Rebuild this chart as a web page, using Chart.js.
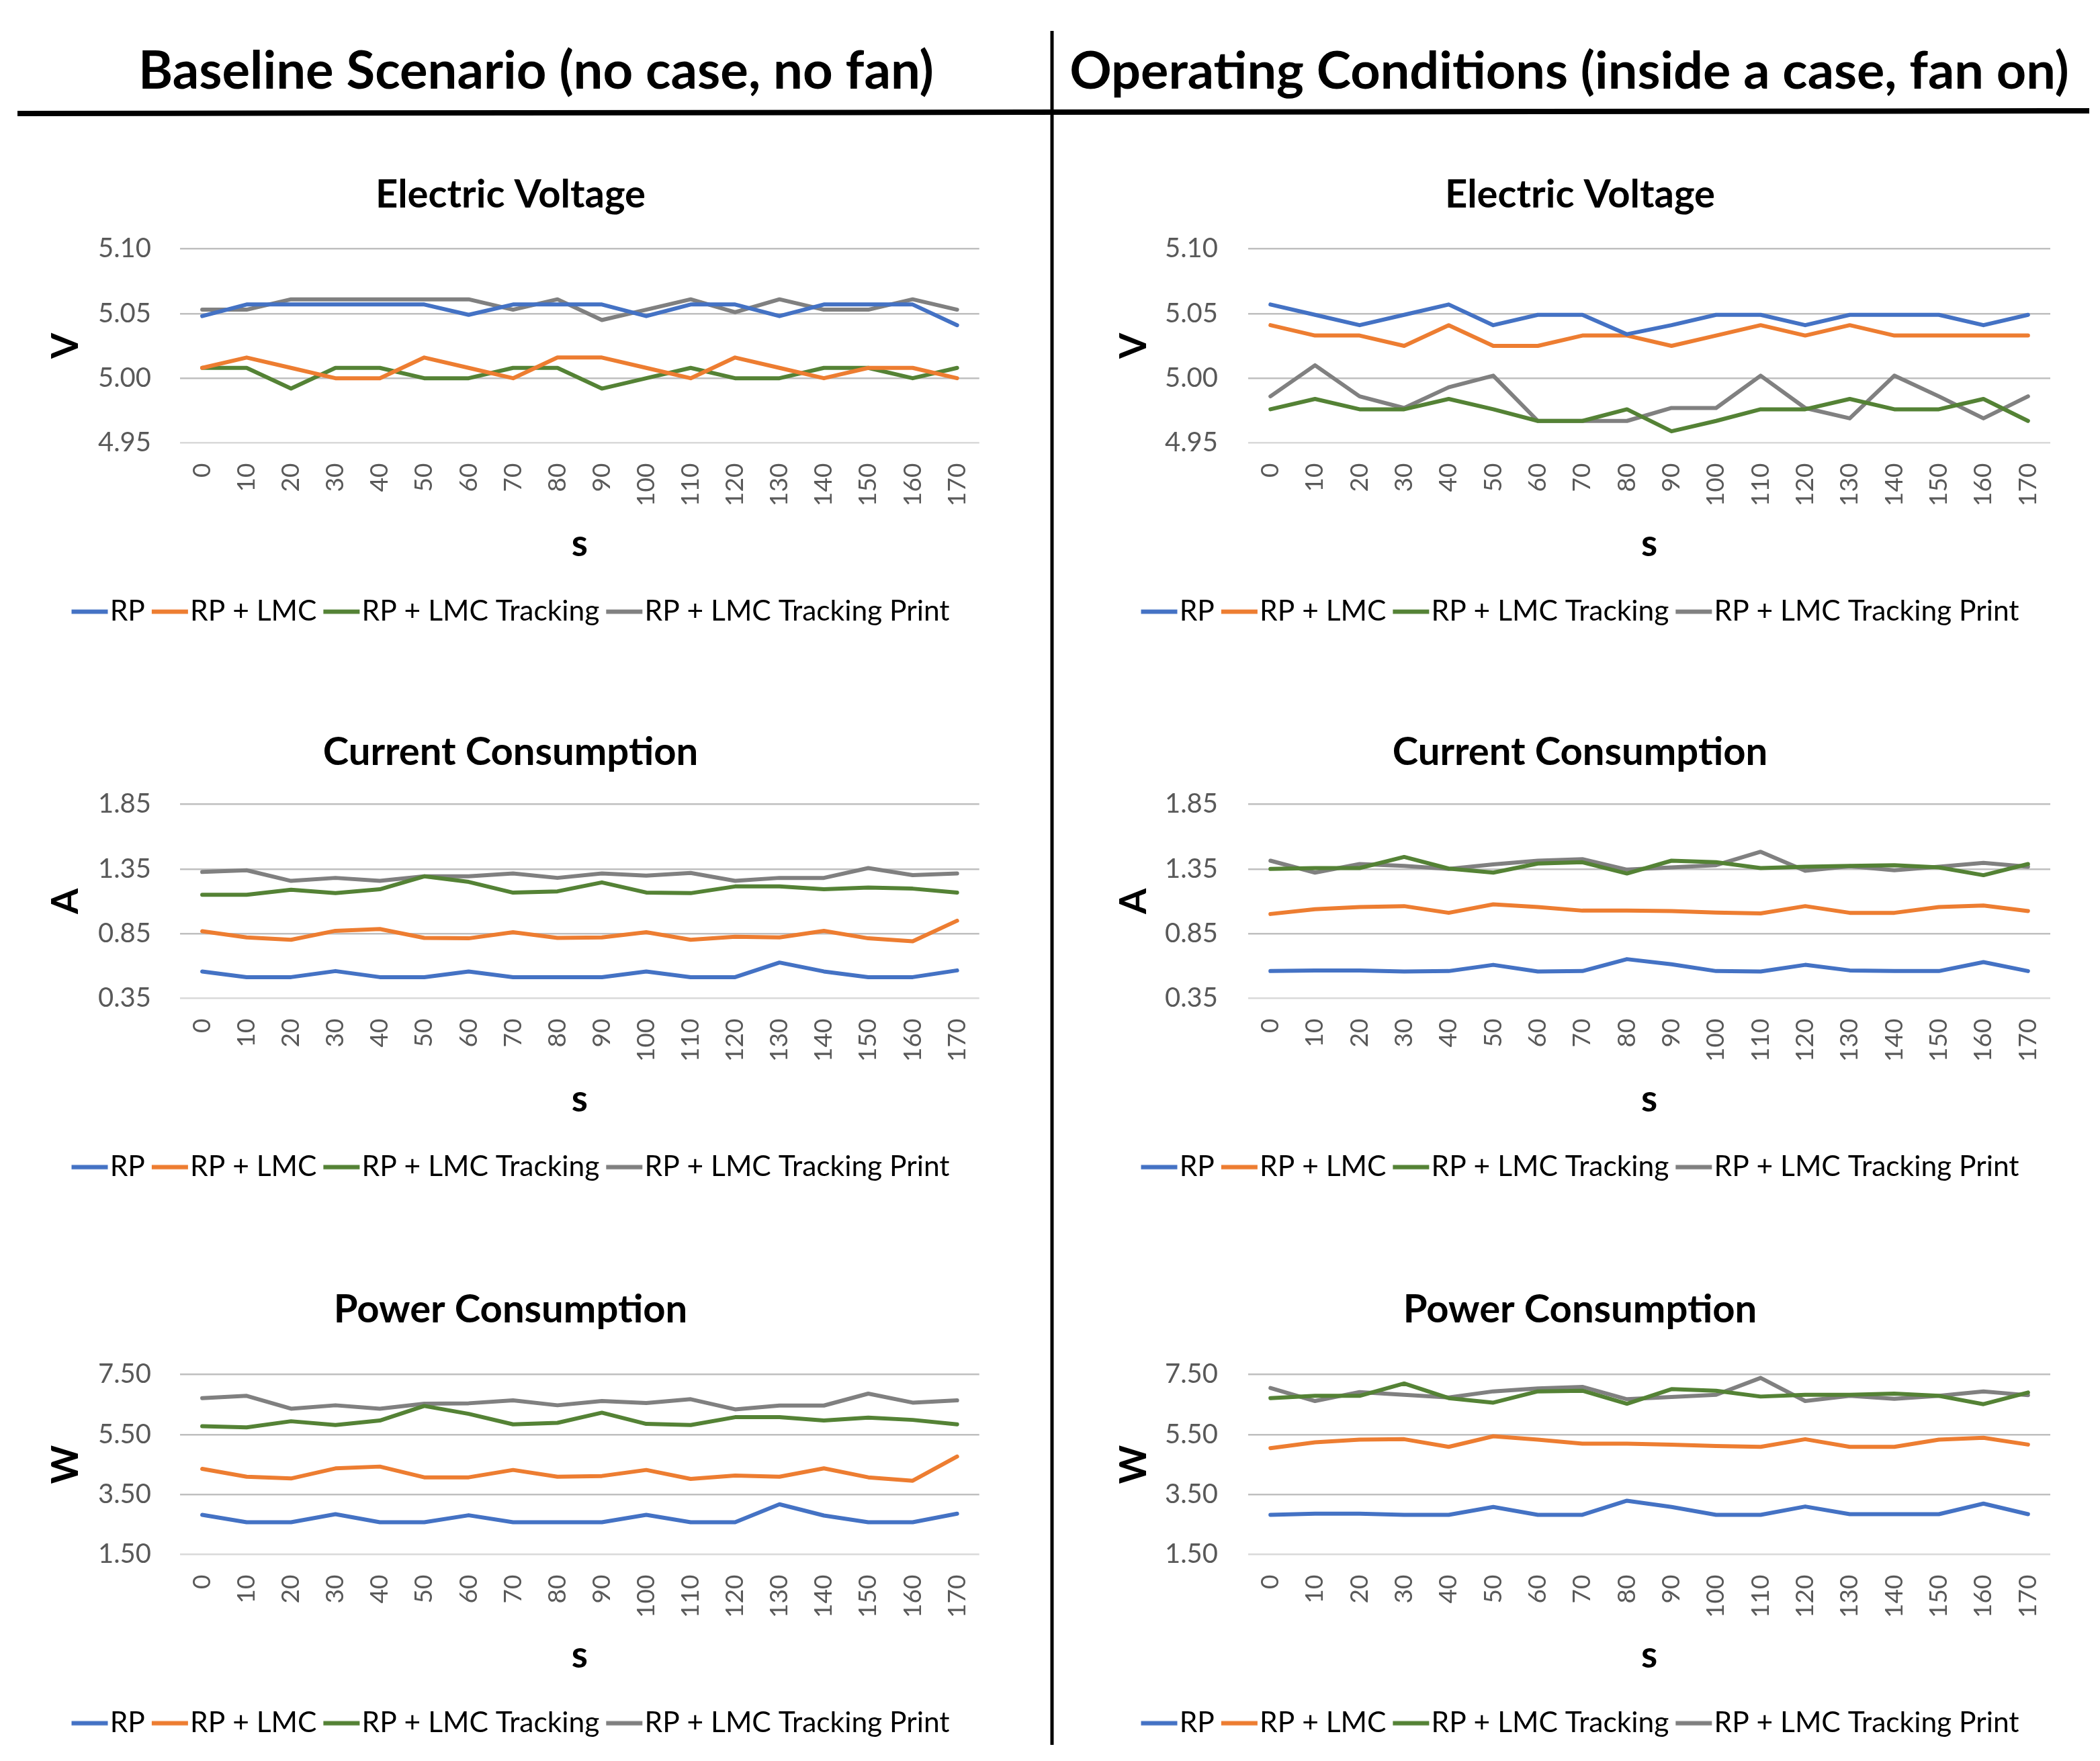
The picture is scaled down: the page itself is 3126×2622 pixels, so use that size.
<!DOCTYPE html>
<html><head><meta charset="utf-8">
<script src="https://cdn.jsdelivr.net/npm/chart.js@4.4.1/dist/chart.umd.min.js"></script>
<style>
html,body{margin:0;padding:0;background:#fff;}
#page{position:relative;width:3126px;height:2622px;overflow:hidden;background:#fff;}
canvas{position:absolute;}
svg{position:absolute;left:0;top:0;}
</style></head><body>
<div id="page">
<svg width="3126" height="2622">
  <line x1="26" y1="169" x2="3110" y2="165" stroke="#000" stroke-width="8"/>
  <line x1="1566" y1="46" x2="1566" y2="2598" stroke="#000" stroke-width="5"/>
  <text id="t1" x="798" y="132" text-anchor="middle" font-family="Lato" font-weight="700" font-size="70" fill="#000">Baseline Scenario (no case, no fan)</text>
  <text id="t2" x="2336" y="132" text-anchor="middle" font-family="Lato" font-weight="700" font-size="70" fill="#000">Operating Conditions (inside a case, fan on)</text>
</svg>
</div>
<script>
// ---------- data ----------
const SECONDS = [0, 10, 20, 30, 40, 50, 60, 70, 80, 90, 100, 110, 120, 130, 140, 150, 160, 170];
const SERIES_NAMES = ['RP', 'RP + LMC', 'RP + LMC Tracking', 'RP + LMC Tracking Print'];
const V_TICKS = [4.95, 5.00, 5.05, 5.10];
const A_TICKS = [0.35, 0.85, 1.35, 1.85];
const W_TICKS = [1.50, 3.50, 5.50, 7.50];

// Baseline scenario - voltage (V)
const BASE_V_RP  = [5.048, 5.057, 5.057, 5.057, 5.057, 5.057, 5.049, 5.057, 5.057, 5.057, 5.048, 5.057, 5.057, 5.048, 5.057, 5.057, 5.057, 5.041];
const BASE_V_LMC = [5.008, 5.016, 5.008, 5.000, 5.000, 5.016, 5.008, 5.000, 5.016, 5.016, 5.008, 5.000, 5.016, 5.008, 5.000, 5.008, 5.008, 5.000];
const BASE_V_TRK = [5.008, 5.008, 4.992, 5.008, 5.008, 5.000, 5.000, 5.008, 5.008, 4.992, 5.000, 5.008, 5.000, 5.000, 5.008, 5.008, 5.000, 5.008];
const BASE_V_PRN = [5.053, 5.053, 5.061, 5.061, 5.061, 5.061, 5.061, 5.053, 5.061, 5.045, 5.053, 5.061, 5.051, 5.061, 5.053, 5.053, 5.061, 5.053];
// Operating conditions - voltage (V)
const OPER_V_RP  = [5.057, 5.049, 5.041, 5.049, 5.057, 5.041, 5.049, 5.049, 5.034, 5.041, 5.049, 5.049, 5.041, 5.049, 5.049, 5.049, 5.041, 5.049];
const OPER_V_LMC = [5.041, 5.033, 5.033, 5.025, 5.041, 5.025, 5.025, 5.033, 5.033, 5.025, 5.033, 5.041, 5.033, 5.041, 5.033, 5.033, 5.033, 5.033];
const OPER_V_TRK = [4.976, 4.984, 4.976, 4.976, 4.984, 4.976, 4.967, 4.967, 4.976, 4.959, 4.967, 4.976, 4.976, 4.984, 4.976, 4.976, 4.984, 4.967];
const OPER_V_PRN = [4.986, 5.010, 4.986, 4.977, 4.993, 5.002, 4.967, 4.967, 4.967, 4.977, 4.977, 5.002, 4.977, 4.969, 5.002, 4.986, 4.969, 4.986];

// Baseline scenario - current (A)
const BASE_A_RP  = [0.558, 0.514, 0.514, 0.561, 0.514, 0.514, 0.558, 0.514, 0.514, 0.514, 0.558, 0.514, 0.514, 0.627, 0.558, 0.514, 0.514, 0.566];
const BASE_A_LMC = [0.869, 0.821, 0.803, 0.872, 0.886, 0.817, 0.814, 0.861, 0.817, 0.821, 0.861, 0.803, 0.826, 0.821, 0.872, 0.814, 0.791, 0.950];
const BASE_A_TRK = [1.151, 1.151, 1.189, 1.163, 1.193, 1.293, 1.250, 1.167, 1.177, 1.246, 1.168, 1.163, 1.215, 1.215, 1.194, 1.206, 1.198, 1.167];
const BASE_A_PRN = [1.327, 1.340, 1.258, 1.281, 1.258, 1.293, 1.293, 1.315, 1.281, 1.315, 1.298, 1.319, 1.258, 1.281, 1.281, 1.357, 1.302, 1.315];
// Operating conditions - current (A)
const OPER_A_RP  = [0.561, 0.566, 0.566, 0.558, 0.561, 0.609, 0.558, 0.561, 0.653, 0.613, 0.561, 0.558, 0.609, 0.566, 0.561, 0.561, 0.630, 0.561];
const OPER_A_LMC = [1.002, 1.039, 1.056, 1.063, 1.011, 1.077, 1.056, 1.028, 1.028, 1.025, 1.013, 1.007, 1.063, 1.011, 1.011, 1.056, 1.068, 1.025];
const OPER_A_TRK = [1.350, 1.357, 1.357, 1.443, 1.353, 1.322, 1.392, 1.402, 1.315, 1.414, 1.402, 1.357, 1.367, 1.374, 1.379, 1.362, 1.302, 1.388];
const OPER_A_PRN = [1.414, 1.322, 1.388, 1.374, 1.350, 1.385, 1.414, 1.426, 1.345, 1.362, 1.379, 1.483, 1.336, 1.371, 1.340, 1.367, 1.397, 1.367];

// Baseline scenario - power (W)
const BASE_W_RP  = [2.822, 2.575, 2.575, 2.844, 2.575, 2.575, 2.807, 2.575, 2.575, 2.575, 2.822, 2.575, 2.575, 3.173, 2.799, 2.575, 2.575, 2.859];
const BASE_W_LMC = [4.355, 4.093, 4.034, 4.370, 4.430, 4.071, 4.071, 4.318, 4.093, 4.116, 4.318, 4.019, 4.131, 4.093, 4.370, 4.071, 3.959, 4.767];
const BASE_W_TRK = [5.777, 5.739, 5.941, 5.814, 5.964, 6.450, 6.188, 5.837, 5.889, 6.226, 5.852, 5.814, 6.076, 6.076, 5.964, 6.061, 5.986, 5.837];
const BASE_W_PRN = [6.712, 6.787, 6.360, 6.473, 6.360, 6.525, 6.540, 6.637, 6.473, 6.615, 6.547, 6.675, 6.338, 6.465, 6.465, 6.862, 6.562, 6.637];
// Operating conditions - power (W)
const OPER_W_RP  = [2.822, 2.859, 2.859, 2.822, 2.822, 3.083, 2.822, 2.822, 3.293, 3.083, 2.822, 2.822, 3.098, 2.844, 2.844, 2.844, 3.196, 2.844];
const OPER_W_LMC = [5.044, 5.238, 5.328, 5.343, 5.088, 5.440, 5.328, 5.193, 5.193, 5.163, 5.118, 5.088, 5.343, 5.088, 5.088, 5.328, 5.388, 5.163];
const OPER_W_TRK = [6.712, 6.787, 6.787, 7.199, 6.712, 6.562, 6.937, 6.959, 6.525, 7.012, 6.959, 6.764, 6.824, 6.824, 6.862, 6.787, 6.510, 6.899];
const OPER_W_PRN = [7.049, 6.615, 6.914, 6.824, 6.735, 6.937, 7.034, 7.087, 6.675, 6.750, 6.824, 7.386, 6.615, 6.787, 6.690, 6.787, 6.937, 6.809];

// ---------- styling / layout ----------
const COLORS = ['#4472C4', '#ED7D31', '#548235', '#808080'];
const ROWS = [
  {titleY: 290,  plotTop: 370.7,  plotBottom: 660},
  {titleY: 1120, plotTop: 1197.7, plotBottom: 1486.7},
  {titleY: 1950, plotTop: 2046.7, plotBottom: 2314.5}
];
const COLS = [
  {left: 20,   width: 1480, plotLeft: 268,  plotRight: 1467, tickPad: 43, titleX: 98},
  {left: 1596, width: 1512, plotLeft: 1858, plotRight: 3052, tickPad: 45, titleX: 1688}
];
const PANELS = [
  {col: 0, row: 0, title: 'Electric Voltage',    unit: 'V', ticks: V_TICKS, series: [BASE_V_RP, BASE_V_LMC, BASE_V_TRK, BASE_V_PRN]},
  {col: 1, row: 0, title: 'Electric Voltage',    unit: 'V', ticks: V_TICKS, series: [OPER_V_RP, OPER_V_LMC, OPER_V_TRK, OPER_V_PRN]},
  {col: 0, row: 1, title: 'Current Consumption', unit: 'A', ticks: A_TICKS, series: [BASE_A_RP, BASE_A_LMC, BASE_A_TRK, BASE_A_PRN]},
  {col: 1, row: 1, title: 'Current Consumption', unit: 'A', ticks: A_TICKS, series: [OPER_A_RP, OPER_A_LMC, OPER_A_TRK, OPER_A_PRN]},
  {col: 0, row: 2, title: 'Power Consumption',   unit: 'W', ticks: W_TICKS, series: [BASE_W_RP, BASE_W_LMC, BASE_W_TRK, BASE_W_PRN]},
  {col: 1, row: 2, title: 'Power Consumption',   unit: 'W', ticks: W_TICKS, series: [OPER_W_RP, OPER_W_LMC, OPER_W_TRK, OPER_W_PRN]}
];

const TITLE_FONT = 58, TITLE_PAD_TOP = 20;
const AXIS_TITLE_FONT = 55;
const X_AXIS_H = 220;
const LEGEND_FONT = 42.5, LEGEND_PAD = 10;
const LINE_W = 6;
const SWATCH_BOX = 36, SWATCH_LEN = 55;

// legend swatch: a short line that ends just before the label text
function makeSwatch(color) {
  const w = 2 * SWATCH_LEN - SWATCH_BOX;   // image centred on box centre
  const cv = document.createElement('canvas');
  cv.width = w; cv.height = 10;
  const g = cv.getContext('2d');
  g.strokeStyle = color; g.lineWidth = 6.5; g.lineCap = 'butt';
  g.beginPath(); g.moveTo(w - SWATCH_LEN, 5); g.lineTo(w - 1, 5); g.stroke();
  return cv;
}

function fitTitles() {
  const targets = {t1: 1184, t2: 1488};
  for (const id in targets) {
    const el = document.getElementById(id);
    const len = el.getComputedTextLength();
    if (len > 0) el.setAttribute('font-size', (70 * targets[id] / len).toFixed(2));
  }
}

function build() {
  Chart.defaults.font.family = 'Lato';
  fitTitles();
  const swatches = COLORS.map(makeSwatch);
  const page = document.getElementById('page');
  PANELS.forEach(p => {
    const c = COLS[p.col], r = ROWS[p.row];
    const titleLH = TITLE_FONT * 1.2;
    const top = r.titleY - TITLE_PAD_TOP - titleLH / 2;
    const titlePadBottom = r.plotTop - top - TITLE_PAD_TOP - titleLH;
    const legendH = LEGEND_FONT + LEGEND_PAD + 10;
    const height = Math.round(r.plotBottom - top + X_AXIS_H + legendH);
    const side = c.left + c.width - c.plotRight;      // symmetric side padding keeps title/legend centred
    const yAxisW = c.plotLeft - c.left - side;
    const cv = document.createElement('canvas');
    cv.width = c.width; cv.height = height;
    cv.style.left = c.left + 'px'; cv.style.top = top + 'px';
    cv.style.width = c.width + 'px'; cv.style.height = height + 'px';
    page.appendChild(cv);
    const xTitleHalf = AXIS_TITLE_FONT * 1.2 / 2;
    const yTitleHalf = AXIS_TITLE_FONT * 1.0 / 2;
    new Chart(cv, {
      type: 'line',
      data: {
        labels: SECONDS.map(String),
        datasets: p.series.map((vals, i) => ({
          label: SERIES_NAMES[i],
          data: vals,
          borderColor: COLORS[i],
          backgroundColor: COLORS[i],
          borderWidth: LINE_W,
          pointRadius: 0,
          pointHoverRadius: 0,
          tension: 0,
          borderJoinStyle: 'round',
          borderCapStyle: 'round'
        }))
      },
      options: {
        responsive: false,
        animation: false,
        devicePixelRatio: 1,
        layout: {padding: {left: side, top: 0, bottom: 0, right: side}},
        plugins: {
          tooltip: {enabled: false},
          title: {
            display: true, text: p.title, color: '#000',
            font: {size: TITLE_FONT, weight: 'bold', lineHeight: 1.2},
            padding: {top: TITLE_PAD_TOP, bottom: titlePadBottom}
          },
          legend: {
            display: true, position: 'bottom',
            labels: {
              usePointStyle: true, pointStyleWidth: SWATCH_BOX,
              color: '#000', font: {size: LEGEND_FONT}, padding: LEGEND_PAD,
              generateLabels: chart => Chart.defaults.plugins.legend.labels.generateLabels(chart)
                .map((it, i) => Object.assign(it, {pointStyle: swatches[i], fontColor: '#000'}))
            }
          }
        },
        scales: {
          x: {
            offset: true,
            grid: {display: false, drawTicks: false},
            border: {display: false},
            ticks: {
              autoSkip: false, minRotation: 90, maxRotation: 90,
              color: '#595959', font: {size: 37}, padding: 30
            },
            title: {
              display: true, text: 's', color: '#000',
              font: {size: AXIS_TITLE_FONT, weight: 'bold', lineHeight: 1.2},
              padding: {top: 0, bottom: X_AXIS_H - 151 - xTitleHalf}
            },
            afterFit: s => { s.height = X_AXIS_H; }
          },
          y: {
            min: p.ticks[0], max: p.ticks[p.ticks.length - 1],
            afterBuildTicks: s => { s.ticks = p.ticks.map(v => ({value: v})); },
            grid: {
              drawTicks: false, lineWidth: 2.5,
              color: ctx => (ctx.tick && ctx.tick.value === p.ticks[0]) ? '#d9d9d9' : '#bfbfbf'
            },
            border: {display: false},
            ticks: {
              color: '#595959', font: {size: 40}, padding: c.tickPad,
              callback: v => Number(v).toFixed(2)
            },
            title: {
              display: true, text: p.unit, color: '#000',
              font: {size: AXIS_TITLE_FONT, weight: 'bold', lineHeight: 1.0},
              padding: {top: Math.max(0, c.titleX - (c.left + side) - yTitleHalf), bottom: 0}
            },
            afterFit: s => { s.width = yAxisW; }
          }
        }
      }
    });
  });
}

const loads = ['700 58px Lato', '400 42px Lato', '700 70px Lato'].map(f => document.fonts.load(f).catch(() => null));
Promise.all(loads).then(build, build);
</script>
</body></html>
